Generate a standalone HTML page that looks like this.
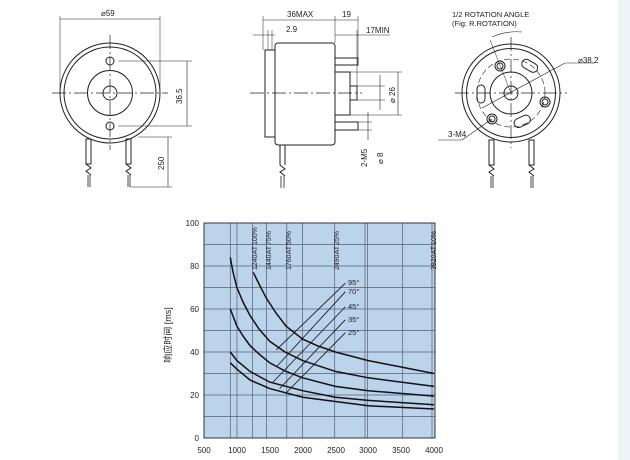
<!DOCTYPE html>
<html><head><meta charset="utf-8"><style>
html,body{margin:0;padding:0;background:#fff;width:630px;height:460px;overflow:hidden}
svg{display:block}
text{font-family:"Liberation Sans","Noto Sans CJK SC",sans-serif;fill:#222}
</style></head><body>
<svg width="630" height="460" viewBox="0 0 630 460" xmlns="http://www.w3.org/2000/svg">
<rect x="618" y="0" width="12" height="460" fill="#eef3f8"/>
<g stroke="#222" fill="none" stroke-width="1">
<!-- FRONT VIEW -->
<circle cx="110" cy="93" r="50"/>
<circle cx="110" cy="93" r="46"/>
<circle cx="110" cy="93" r="22.5"/>
<circle cx="110" cy="93" r="7"/>
<circle cx="110" cy="61" r="4"/>
<circle cx="110" cy="126" r="4"/>
<line x1="52" y1="93" x2="168" y2="93" stroke-dasharray="14,3,2,3" stroke-width="0.7"/>
<line x1="110" y1="35" x2="110" y2="150" stroke-dasharray="14,3,2,3" stroke-width="0.7"/>
<line x1="60" y1="16" x2="60" y2="90" stroke-width="0.5"/>
<line x1="160" y1="16" x2="160" y2="90" stroke-width="0.5"/>
<line x1="60" y1="19" x2="160" y2="19" stroke-width="0.6"/>
<line x1="118" y1="61" x2="192" y2="61" stroke-width="0.5"/>
<line x1="118" y1="126" x2="192" y2="126" stroke-width="0.5"/>
<line x1="187" y1="61" x2="187" y2="126" stroke-width="0.6"/>
<line x1="138" y1="137" x2="172" y2="137" stroke-width="0.5"/>
<line x1="130" y1="187" x2="172" y2="187" stroke-width="0.5"/>
<line x1="168" y1="137" x2="168" y2="187" stroke-width="0.6"/>
<rect x="86" y="139" width="5" height="25"/>
<rect x="126" y="139" width="5" height="25"/>
<path d="M86 164 l5 4 l-5 3 l5 4 M126 164 l5 4 l-5 3 l5 4"/>
<path d="M88 175 v12 M90 175 v12 M128 175 v12 M130 175 v12" stroke-width="0.8"/>
<!-- SIDE VIEW -->
<rect x="265" y="50" width="10" height="87"/>
<rect x="275" y="43" width="60" height="102" rx="3"/>
<rect x="335" y="72" width="15" height="43"/>
<rect x="350" y="86" width="7" height="14"/>
<rect x="335" y="58" width="23" height="7"/>
<rect x="335" y="122" width="23" height="8"/>
<line x1="250" y1="93" x2="362" y2="93" stroke-dasharray="14,3,2,3" stroke-width="0.7"/>
<line x1="263" y1="16" x2="263" y2="50" stroke-width="0.5"/>
<line x1="335" y1="16" x2="335" y2="43" stroke-width="0.5"/>
<line x1="358" y1="16" x2="358" y2="58" stroke-width="0.5"/>
<line x1="263" y1="20" x2="358" y2="20" stroke-width="0.6"/>
<line x1="253" y1="35" x2="275" y2="35" stroke-width="0.6"/>
<line x1="268" y1="30" x2="268" y2="50" stroke-width="0.5"/>
<line x1="272" y1="30" x2="272" y2="50" stroke-width="0.5"/>
<line x1="335" y1="35" x2="390" y2="35" stroke-width="0.6"/>
<line x1="357" y1="30" x2="357" y2="86" stroke-width="0.5"/>
<line x1="350" y1="72" x2="402" y2="72" stroke-width="0.5"/>
<line x1="350" y1="115" x2="402" y2="115" stroke-width="0.5"/>
<line x1="398" y1="72" x2="398" y2="115" stroke-width="0.6"/>
<line x1="357" y1="86" x2="385" y2="86" stroke-width="0.5"/>
<line x1="357" y1="100" x2="385" y2="100" stroke-width="0.5"/>
<line x1="380" y1="75" x2="380" y2="110" stroke-width="0.6"/>
<line x1="358" y1="122" x2="372" y2="122" stroke-width="0.5"/>
<line x1="358" y1="130" x2="372" y2="130" stroke-width="0.5"/>
<line x1="368" y1="112" x2="368" y2="140" stroke-width="0.6"/>
<line x1="280" y1="145" x2="280" y2="165"/><line x1="285" y1="145" x2="285" y2="165"/>
<path d="M280 165 l5 4 l-5 3 l5 4"/>
<path d="M281 176 v12 M284 176 v12" stroke-width="0.8"/>
<!-- REAR VIEW -->
<circle cx="511" cy="93" r="49"/>
<circle cx="511" cy="93" r="44.5"/>
<circle cx="511" cy="93" r="21"/>
<circle cx="511" cy="93" r="7"/>
<circle cx="511" cy="93" r="34" stroke-dasharray="6,3" stroke-width="0.6"/>
<line x1="455" y1="93" x2="567" y2="93" stroke-dasharray="14,3,2,3" stroke-width="0.7"/>
<line x1="511" y1="37" x2="511" y2="148" stroke-dasharray="14,3,2,3" stroke-width="0.7"/>
<circle cx="500" cy="66" r="5"/><circle cx="500" cy="66" r="3"/>
<circle cx="492" cy="119" r="5"/><circle cx="492" cy="119" r="3"/>
<circle cx="545" cy="102" r="5"/><circle cx="545" cy="102" r="3"/>
<rect x="521" y="61" width="17" height="9" rx="4.5" transform="rotate(30 529 66)"/>
<rect x="477" y="85" width="8" height="18" rx="4"/>
<rect x="514" y="117" width="17" height="9" rx="4.5" transform="rotate(-25 522 122)"/>
<line x1="482" y1="108" x2="565" y2="63" stroke-width="0.6"/>
<line x1="565" y1="63" x2="595" y2="63" stroke-width="0.6"/>
<line x1="511" y1="93" x2="490" y2="40" stroke-width="0.5"/>
<path d="M492 37 A60 60 0 0 1 522 32" stroke-width="0.6"/>
<line x1="492" y1="119" x2="462" y2="140" stroke-width="0.6"/>
<line x1="462" y1="140" x2="438" y2="140" stroke-width="0.6"/>
<rect x="489" y="140" width="5" height="25"/><rect x="529" y="140" width="5" height="25"/>
<path d="M489 165 l5 4 l-5 3 l5 4 M529 165 l5 4 l-5 3 l5 4"/>
<path d="M491 176 v12 M493 176 v12 M531 176 v12 M533 176 v12" stroke-width="0.8"/>
</g>
<g font-size="8">
<text x="101" y="16">⌀59</text>
<text x="0" y="0" transform="translate(182,104) rotate(-90)">36.5</text>
<text x="0" y="0" transform="translate(164,170) rotate(-90)">250</text>
<text x="287" y="17">36MAX</text>
<text x="342" y="17">19</text>
<text x="286" y="32">2.9</text>
<text x="366" y="33">17MIN</text>
<text x="0" y="0" transform="translate(395,103) rotate(-90)">⌀ 26</text>
<text x="0" y="0" transform="translate(367,167) rotate(-90)">2-M5</text>
<text x="0" y="0" transform="translate(383,164) rotate(-90)">⌀ 8</text>
<text x="452" y="17" font-size="7.5">1/2 ROTATION ANGLE</text>
<text x="452" y="26" font-size="7.5">(Fig: R.ROTATION)</text>
<text x="578" y="63">⌀38.2</text>
<text x="448" y="137">3-M4</text>
</g>
<!-- CHART -->
<rect x="204" y="223" width="231" height="215" fill="#bcd3ec"/>
<g stroke="#556070" stroke-width="0.7">
<line x1="204" y1="244.5" x2="435" y2="244.5"/><line x1="204" y1="266" x2="435" y2="266"/>
<line x1="204" y1="287.5" x2="435" y2="287.5"/><line x1="204" y1="309" x2="435" y2="309"/>
<line x1="204" y1="330.5" x2="435" y2="330.5"/><line x1="204" y1="352" x2="435" y2="352"/>
<line x1="204" y1="373.5" x2="435" y2="373.5"/><line x1="204" y1="395" x2="435" y2="395"/>
<line x1="204" y1="416.5" x2="435" y2="416.5"/>
<line x1="230.3" y1="223" x2="230.3" y2="438"/><line x1="237" y1="223" x2="237" y2="438"/>
<line x1="252.6" y1="223" x2="252.6" y2="438"/><line x1="266.5" y1="223" x2="266.5" y2="438"/>
<line x1="286.8" y1="223" x2="286.8" y2="438"/><line x1="302.6" y1="223" x2="302.6" y2="438"/>
<line x1="334.7" y1="223" x2="334.7" y2="438"/><line x1="365" y1="223" x2="365" y2="438"/>
<line x1="367.5" y1="223" x2="367.5" y2="438"/><line x1="402.7" y1="223" x2="402.7" y2="438"/>
<line x1="432" y1="223" x2="432" y2="438"/>
</g>
<rect x="204" y="223" width="231" height="215" fill="none" stroke="#333" stroke-width="1"/>
<g fill="none" stroke="#111" stroke-width="1.5">
<polyline points="253.3,272.4 259,284 266.4,298.3 276,313 286.1,326.2 302.6,339.1 318,346 335.4,352 368.3,360.6 401.1,367 434,373.5"/>
<polyline points="230.3,257.4 233,272 236.9,287.5 243,302 250,315.5 259,329 269.7,341.3 285,352 302.6,360.6 335.4,371.4 368.3,377.8 401.1,382.1 434,386.4"/>
<polyline points="230.3,309 236.9,326.2 243,336 250,345.6 259,354 269.7,362.8 285,371 302.6,377.8 335.4,386.4 368.3,390.7 434,396.1"/>
<polyline points="230.3,352 236.9,360.6 250,371.4 269.7,382.1 302.6,390.7 335.4,397.2 368.3,400.4 434,404.7"/>
<polyline points="230.3,362.8 236.9,369.2 250,380 269.7,388.6 302.6,397.2 335.4,401.5 368.3,405.8 434,409"/>
</g>
<g stroke="#111" stroke-width="0.8">
<line x1="276.3" y1="349.9" x2="345.3" y2="283.2"/>
<line x1="276.3" y1="367" x2="345.3" y2="291.8"/>
<line x1="273" y1="382.1" x2="345.3" y2="306.9"/>
<line x1="279.6" y1="388.6" x2="345.3" y2="319.8"/>
<line x1="286.1" y1="392.9" x2="345.3" y2="332.7"/>
</g>
<g font-size="7.5">
<text x="348" y="285">95°</text><text x="348" y="294">70°</text>
<text x="348" y="309">45°</text><text x="348" y="322">35°</text><text x="348" y="335">25°</text>
</g>
<g font-size="7">
<text transform="translate(257,245) rotate(-90)">100%</text>
<text transform="translate(257,270) rotate(-90)">1240AT</text>
<text transform="translate(271,245) rotate(-90)">75%</text>
<text transform="translate(271,270) rotate(-90)">1440AT</text>
<text transform="translate(291,245) rotate(-90)">50%</text>
<text transform="translate(291,270) rotate(-90)">1760AT</text>
<text transform="translate(339,245) rotate(-90)">25%</text>
<text transform="translate(339,270) rotate(-90)">2490AT</text>
<text transform="translate(436,245) rotate(-90)">10%</text>
<text transform="translate(436,270) rotate(-90)">3920AT</text>
</g>
<g font-size="8" text-anchor="end">
<text x="199" y="226">100</text><text x="199" y="269">80</text><text x="199" y="312">60</text>
<text x="199" y="355">40</text><text x="199" y="398">20</text><text x="199" y="441">0</text>
</g>
<g font-size="8" text-anchor="middle">
<text x="204" y="453">500</text><text x="237" y="453">1000</text><text x="270" y="453">1500</text>
<text x="303" y="453">2000</text><text x="336" y="453">2500</text><text x="368" y="453">3000</text>
<text x="401" y="453">3500</text><text x="434" y="453">4000</text>
</g>
<text transform="translate(171,335) rotate(-90)" font-size="9" text-anchor="middle">响应时间 [ms]</text>
</svg>
</body></html>
